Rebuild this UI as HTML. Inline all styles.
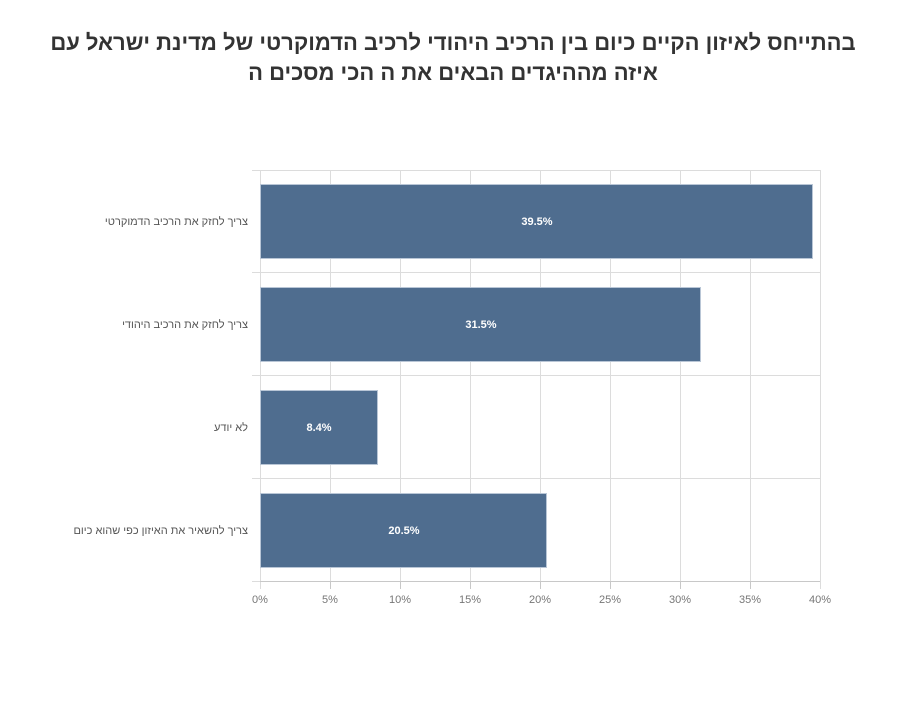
<!DOCTYPE html>
<html><head><meta charset="utf-8"><style>
body{margin:0;background:#fff;width:900px;height:700px;overflow:hidden}
</style></head><body>
<svg width="900" height="700" xmlns="http://www.w3.org/2000/svg" font-family="Liberation Sans, DejaVu Sans, sans-serif">
<rect width="900" height="700" fill="#fff"/>
<text x="453" y="50" text-anchor="middle" font-size="22" font-weight="bold" fill="#333" direction="rtl">בהתייחס לאיזון הקיים כיום בין הרכיב היהודי לרכיב הדמוקרטי של מדינת ישראל עם</text>
<text x="453" y="80" text-anchor="middle" font-size="22" font-weight="bold" fill="#333" direction="rtl">איזה מההיגדים הבאים את ה הכי מסכים ה</text>
<g stroke="#dcdcdc" stroke-width="1">
<line x1="330.5" y1="170" x2="330.5" y2="581"/>
<line x1="400.5" y1="170" x2="400.5" y2="581"/>
<line x1="470.5" y1="170" x2="470.5" y2="581"/>
<line x1="540.5" y1="170" x2="540.5" y2="581"/>
<line x1="610.5" y1="170" x2="610.5" y2="581"/>
<line x1="680.5" y1="170" x2="680.5" y2="581"/>
<line x1="750.5" y1="170" x2="750.5" y2="581"/>
<line x1="820.5" y1="170" x2="820.5" y2="589"/>
<line x1="252" y1="170.5" x2="820" y2="170.5"/>
<line x1="252" y1="272.5" x2="820" y2="272.5"/>
<line x1="252" y1="375.5" x2="820" y2="375.5"/>
<line x1="252" y1="478.5" x2="820" y2="478.5"/>
<line x1="252" y1="581.5" x2="260" y2="581.5"/>
<line x1="260.5" y1="170" x2="260.5" y2="589"/>
</g>
<line x1="260" y1="581.5" x2="820" y2="581.5" stroke="#c8c8c8"/>
<g stroke="#c8c8c8"><line x1="330.5" y1="581" x2="330.5" y2="589"/><line x1="400.5" y1="581" x2="400.5" y2="589"/><line x1="470.5" y1="581" x2="470.5" y2="589"/><line x1="540.5" y1="581" x2="540.5" y2="589"/><line x1="610.5" y1="581" x2="610.5" y2="589"/><line x1="680.5" y1="581" x2="680.5" y2="589"/><line x1="750.5" y1="581" x2="750.5" y2="589"/></g>
<g fill="#4f6d8f" stroke="#b9c6d6" stroke-width="1">
<rect x="260.5" y="184.5" width="552" height="74"/>
<rect x="260.5" y="287.5" width="440" height="74"/>
<rect x="260.5" y="390.5" width="117" height="74"/>
<rect x="260.5" y="493.5" width="286" height="74"/>
</g>
<g fill="#fff" font-size="11" font-weight="bold" text-anchor="middle">
<text x="537" y="225">39.5%</text>
<text x="481" y="328">31.5%</text>
<text x="319" y="431">8.4%</text>
<text x="404" y="534">20.5%</text>
</g>
<g fill="#555" font-size="11" text-anchor="start" direction="rtl">
<text x="248" y="225">צריך לחזק את הרכיב הדמוקרטי</text>
<text x="248" y="328">צריך לחזק את הרכיב היהודי</text>
<text x="248" y="431">לא יודע</text>
<text x="248" y="534">צריך להשאיר את האיזון כפי שהוא כיום</text>
</g>
<g fill="#777" font-size="11" text-anchor="middle">
<text x="260" y="603">0%</text><text x="330" y="603">5%</text><text x="400" y="603">10%</text><text x="470" y="603">15%</text><text x="540" y="603">20%</text><text x="610" y="603">25%</text><text x="680" y="603">30%</text><text x="750" y="603">35%</text><text x="820" y="603">40%</text>
</g>
</svg>
</body></html>
